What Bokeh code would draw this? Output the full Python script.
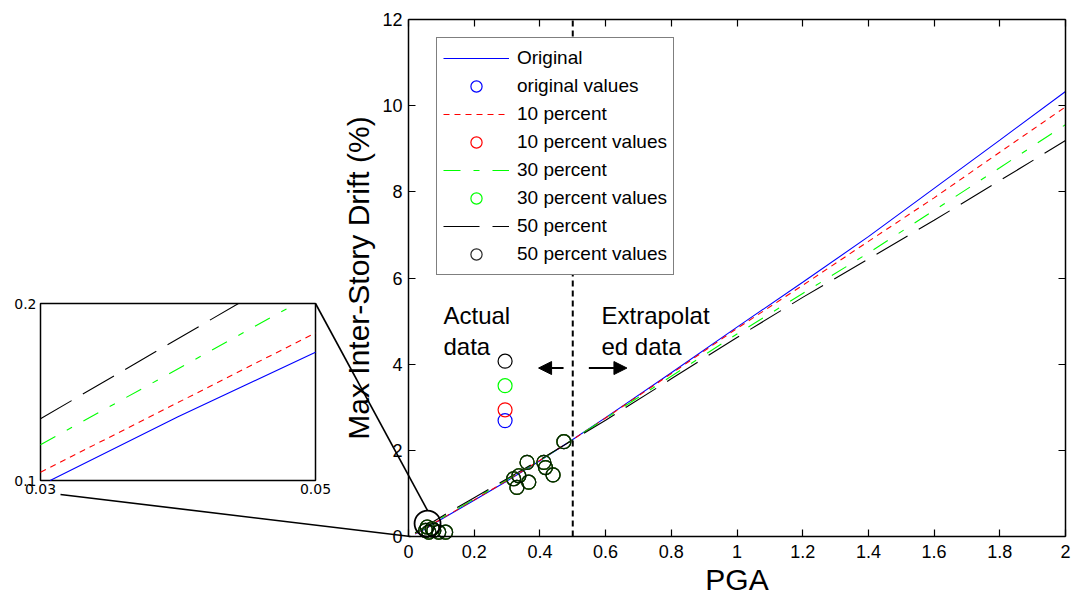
from bokeh.plotting import figure
from bokeh.models import (Range1d, LinearAxis, FixedTicker, Legend, LegendItem,
                          Label, Arrow, NormalHead)
from bokeh.embed import file_html
from bokeh.resources import INLINE

# ---------------- data ----------------
pga = [0.02, 0.03, 0.05, 0.1, 0.2, 0.3, 0.4, 0.5, 0.6, 0.8, 1.0, 1.2, 1.4, 1.6, 1.8, 2.0]
drift_original = [0.06, 0.10, 0.17, 0.40, 0.84, 1.29, 1.76, 2.25, 2.76, 3.80, 4.86, 5.90, 6.96, 8.08, 9.20, 10.33]
drift_10 = [0.07, 0.105, 0.183, 0.41, 0.85, 1.30, 1.77, 2.25, 2.75, 3.78, 4.83, 5.83, 6.85, 7.86, 8.92, 9.97]
drift_30 = [0.08, 0.12, 0.204, 0.43, 0.87, 1.32, 1.77, 2.25, 2.74, 3.72, 4.70, 5.64, 6.58, 7.57, 8.56, 9.56]
drift_50 = [0.09, 0.135, 0.225, 0.46, 0.90, 1.34, 1.78, 2.24, 2.70, 3.66, 4.62, 5.55, 6.44, 7.34, 8.26, 9.19]

obs_pga = [0.052, 0.057, 0.062, 0.072, 0.077, 0.092, 0.113, 0.320, 0.330, 0.336,
           0.361, 0.366, 0.412, 0.417, 0.440, 0.473]
obs_drift = [0.14, 0.22, 0.10, 0.18, 0.14, 0.10, 0.10, 1.34, 1.14, 1.41,
             1.72, 1.26, 1.72, 1.60, 1.43, 2.20]

key_pga = [0.294]
key_drift_original = [2.69]
key_drift_10 = [2.94]
key_drift_30 = [3.50]
key_drift_50 = [4.07]

threshold_pga = 0.5

inset_pga_original = [0.0307, 0.04, 0.05]
inset_drift_original = [0.100, 0.136, 0.1725]
inset_pga_10 = [0.03, 0.05]
inset_drift_10 = [0.1047, 0.1834]
inset_pga_30 = [0.03, 0.0486]
inset_drift_30 = [0.1202, 0.2]
inset_pga_50 = [0.03, 0.0444]
inset_drift_50 = [0.1349, 0.2]

zoom_pga, zoom_drift = 0.058, 0.30

x_ticks = [0, 0.2, 0.4, 0.6, 0.8, 1.0, 1.2, 1.4, 1.6, 1.8, 2.0]
x_tick_labels = ["0", "0.2", "0.4", "0.6", "0.8", "1", "1.2", "1.4", "1.6", "1.8", "2"]
y_ticks = [0, 2, 4, 6, 8, 10, 12]
y_tick_labels = ["0", "2", "4", "6", "8", "10", "12"]
inset_x_ticks = [0.03, 0.05]
inset_x_labels = ["0.03", "0.05"]
inset_y_ticks = [0.1, 0.2]
inset_y_labels = ["0.1", "0.2"]

series_names = ["Original", "10 percent", "30 percent", "50 percent"]

# ---------------- layout ----------------
W, H = 1073, 601
FX0, FX2 = 408, 1065      # canvas px of PGA 0 and 2
FY0, FY12 = 536, 19       # canvas px of drift 0 and 12
sx = (FX2 - FX0) / 2.0
sy = (FY0 - FY12) / 12.0
mx0, mx1 = -FX0 / sx, (W - FX0) / sx
my0, my1 = -(H - FY0) / sy, 12 + FY12 / sy

# inset box in canvas px
IL, IR, IT, IB = 40, 315, 303, 480
isx = (IR - IL) / 0.02
isy = (IB - IT) / 0.1
ix0 = 0.03 - IL / isx
ix1 = ix0 + W / isx
iy1 = 0.2 + IT / isy
iy0 = 0.1 - (H - IB) / isy

FONT = "Liberation Sans"

p = figure(width=W, height=H, output_backend="svg", toolbar_location=None,
           x_range=Range1d(mx0, mx1), y_range=Range1d(my0, my1),
           x_axis_location=None, y_axis_location=None,
           min_border=0, outline_line_color=None)
p.grid.visible = False
p.background_fill_color = "white"
p.border_fill_color = "white"
p.extra_x_ranges = {"inset": Range1d(ix0, ix1)}
p.extra_y_ranges = {"inset": Range1d(iy0, iy1)}

colors = ["#0000ff", "#ff0000", "#00ff00", "#000000"]
dashes = ["solid", "6 5", "17 13 6 13", "36 13"]
drifts = [drift_original, drift_10, drift_30, drift_50]
key_drifts = [key_drift_original, key_drift_10, key_drift_30, key_drift_50]
inset_x = [inset_pga_original, inset_pga_10, inset_pga_30, inset_pga_50]
inset_y = [inset_drift_original, inset_drift_10, inset_drift_30, inset_drift_50]

# threshold line
p.multi_line(xs=[[threshold_pga, threshold_pga]], ys=[[0, 12]], line_color="black",
             line_width=2, line_dash="6 4")

line_rs, pt_rs = [], []
for c, d, ys in zip(colors, dashes, drifts):
    line_rs.append(p.multi_line(xs=[pga], ys=[ys], line_color=c, line_width=1.1, line_dash=d))
for i, (c, kd) in enumerate(zip(colors, key_drifts)):
    alpha = 0.85 if i == 3 else 1.0
    r = p.scatter(obs_pga, obs_drift, marker="circle", size=14, fill_color=None,
                  line_color=c, line_width=1.2, line_alpha=alpha)
    pt_rs.append(r)
    p.scatter(key_pga, kd, marker="circle", size=14, fill_color=None,
              line_color=c, line_width=1.2)

# zoom circle
p.scatter([zoom_pga], [zoom_drift], marker="circle", size=26, fill_color=None,
          line_color="black", line_width=1.8)

# inset
p.quad(left=[0.03], right=[0.05], bottom=[0.1], top=[0.2], fill_color="white",
       line_color="black", line_width=1.5, x_range_name="inset", y_range_name="inset")
for c, d, xs, ys in zip(colors, dashes, inset_x, inset_y):
    p.multi_line(xs=[xs], ys=[ys], line_color=c, line_width=1.1, line_dash=d,
                 x_range_name="inset", y_range_name="inset")


def inset_to_main(ix, iy):
    fx = (ix - ix0) / (ix1 - ix0)
    fy = (iy - iy0) / (iy1 - iy0)
    return mx0 + fx * (mx1 - mx0), my0 + fy * (my1 - my0)


a1 = inset_to_main(0.05, 0.2)
b1 = (zoom_pga, zoom_drift + 13 / sy)
a2 = inset_to_main(0.03 + 20 / isx, 0.1 - 14 / isy)
b2 = (0.006, 0.0)
p.segment(x0=[a1[0], a2[0]], y0=[a1[1], a2[1]], x1=[b1[0], b2[0]], y1=[b1[1], b2[1]],
          line_color="black", line_width=1.6)

# inset axes (labels only)
inset_common = dict(major_tick_in=0, major_tick_out=0, minor_tick_in=0, minor_tick_out=0,
                    axis_line_color=None, major_label_text_color="black",
                    major_label_text_font="DejaVu Sans", major_label_text_font_size="14px")
iax_y = LinearAxis(x_range_name="inset", y_range_name="inset", fixed_location=0.03,
                   bounds=(0.1, 0.2), ticker=FixedTicker(ticks=inset_y_ticks),
                   major_label_overrides=dict(zip(inset_y_ticks, inset_y_labels)),
                   major_label_standoff=4, **inset_common)
p.add_layout(iax_y, "left")
iax_x = LinearAxis(x_range_name="inset", y_range_name="inset", fixed_location=0.1,
                   bounds=(0.03, 0.05), ticker=FixedTicker(ticks=inset_x_ticks),
                   major_label_overrides=dict(zip(inset_x_ticks, inset_x_labels)),
                   major_label_standoff=3, **inset_common)
p.add_layout(iax_x, "below")

# main axes
common = dict(major_tick_out=0, major_tick_in=7, minor_tick_in=0, minor_tick_out=0,
              axis_line_width=1.5, major_tick_line_width=1.2,
              major_label_text_font=FONT, major_label_text_font_size="18px",
              major_label_text_color="black",
              axis_label_text_font=FONT, axis_label_text_font_style="normal",
              axis_label_text_font_size="30px", axis_label_text_color="black")
yax = LinearAxis(fixed_location=0, bounds=(0, 12), ticker=FixedTicker(ticks=y_ticks),
                 major_label_overrides=dict(zip(y_ticks, y_tick_labels)),
                 axis_label="Max Inter-Story Drift (%)", major_label_standoff=6,
                 axis_label_standoff=4, **common)
p.add_layout(yax, "left")
xax = LinearAxis(fixed_location=0, bounds=(0, 2), ticker=FixedTicker(ticks=x_ticks),
                 major_label_overrides=dict(zip(x_ticks, x_tick_labels)),
                 axis_label="PGA", major_label_standoff=8, axis_label_standoff=2, **common)
p.add_layout(xax, "below")
rax = LinearAxis(fixed_location=2, bounds=(0, 12), ticker=FixedTicker(ticks=y_ticks),
                 major_label_overrides={t: "" for t in y_ticks}, **common)
p.add_layout(rax, "right")
tax = LinearAxis(fixed_location=12, bounds=(0, 2), ticker=FixedTicker(ticks=x_ticks),
                 major_label_overrides={t: "" for t in x_ticks}, **common)
p.add_layout(tax, "above")

# annotations
p.add_layout(Label(x=0.1065, y=5.44, text="Actual\ndata", text_font=FONT,
                   text_font_size="24px", text_baseline="top", text_align="left",
                   text_color="black", text_line_height=1.15))
p.add_layout(Label(x=0.5875, y=5.44, text="Extrapolat\ned data", text_font=FONT,
                   text_font_size="24px", text_baseline="top", text_align="left",
                   text_color="black", text_line_height=1.15))
p.add_layout(Arrow(end=NormalHead(size=13, fill_color="black", line_color="black"),
                   x_start=0.472, y_start=3.91, x_end=0.396, y_end=3.91,
                   line_width=2, line_color="black"))
p.add_layout(Arrow(end=NormalHead(size=13, fill_color="black", line_color="black"),
                   x_start=0.549, y_start=3.91, x_end=0.665, y_end=3.91,
                   line_width=2, line_color="black"))

# legend
items = []
for name, lr, pr in zip(series_names, line_rs, pt_rs):
    items.append(LegendItem(label=name, renderers=[lr]))
    items.append(LegendItem(label=(name if name != "Original" else "original") + " values",
                            renderers=[pr]))
legend = Legend(items=items, location=(436, H - 275), padding=6, spacing=0,
                glyph_width=66, glyph_height=28, label_height=28, label_standoff=8,
                label_text_font=FONT, label_text_font_size="19px", label_text_color="black",
                border_line_color="black", border_line_width=1,
                background_fill_color="white", background_fill_alpha=1.0, margin=0)
p.add_layout(legend)

open("out.html", "w").write(file_html(p, INLINE))
